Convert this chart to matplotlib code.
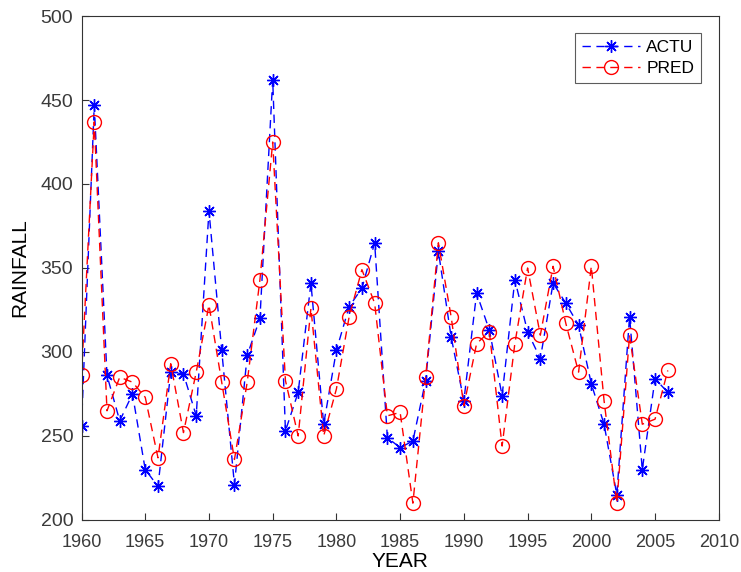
import matplotlib.pyplot as plt

plt.rcParams['font.family'] = ['Liberation Sans', 'DejaVu Sans']

years = list(range(1960, 2007))

actu = [256, 447, 286, 259, 275, 230, 220, 288, 287, 262,
        384, 301, 221, 298, 320, 462, 253, 276, 341, 257,
        301, 327, 338, 365, 249, 243, 247, 283, 360, 309,
        271, 335, 313, 274, 343, 312, 296, 341, 329, 316,
        281, 257, 215, 321, 230, 284, 276]

pred = [286, 437, 265, 285, 282, 273, 237, 293, 252, 288,
        328, 282, 236, 282, 343, 425, 283, 250, 326, 250,
        278, 321, 349, 329, 262, 264, 210, 285, 365, 321,
        268, 305, 312, 244, 305, 350, 310, 351, 317, 288,
        351, 271, 210, 310, 257, 260, 289]

fig = plt.figure(figsize=(7.41, 5.72), dpi=100)
ax = fig.add_axes([0.110, 0.091, 0.860, 0.881])

# MATLAB-like asterisk marker (8 spokes)
star = (8, 2, 0)
ax.plot(years, actu, color='#0000ff', linestyle=(0, (6, 4)), linewidth=1.0,
        marker=star, markersize=9, markeredgewidth=1.0, label='ACTU')
ax.plot(years, pred, color='#ff0000', linestyle=(0, (6, 4)), linewidth=1.0,
        marker='o', markersize=10, markerfacecolor='none', markeredgewidth=1.0,
        label='PRED')

ax.set_xlim(1960, 2010)
ax.set_ylim(200, 500)
ax.set_xticks(range(1960, 2011, 5))
ax.set_yticks(range(200, 501, 50))
ax.tick_params(direction='in', labelsize=14, labelcolor='#3a3a3a',
               length=5, color='#333333')
ax.tick_params(axis='x', pad=10, labelsize=13)
ax.tick_params(axis='y', pad=6)
for s in ax.spines.values():
    s.set_color('#333333')

ax.set_xlabel('YEAR', fontsize=15, labelpad=1)
ax.set_ylabel('RAINFALL', fontsize=15, labelpad=8)

leg = ax.legend(loc='upper right', fontsize=12.5, frameon=True, fancybox=False,
                edgecolor='#333333', handlelength=3.3, handletextpad=0.4,
                borderaxespad=1.0, labelspacing=0.3)
leg.get_frame().set_linewidth(0.8)

fig.savefig('out.png', dpi=100)
